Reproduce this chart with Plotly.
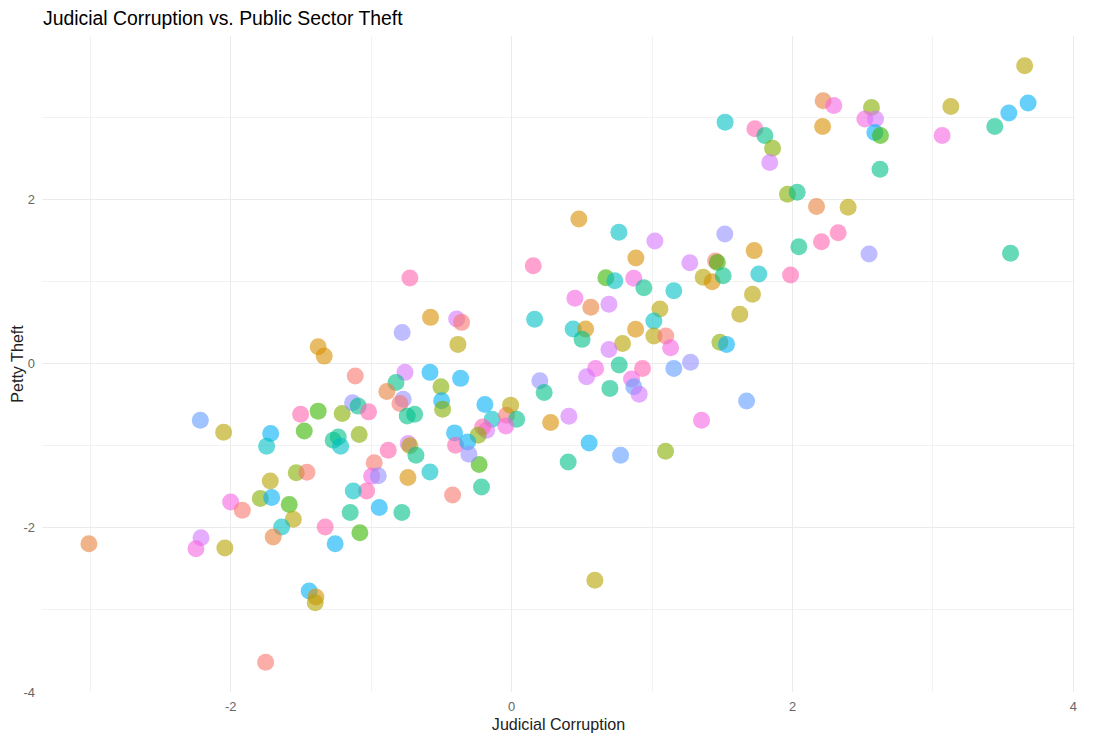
import plotly.graph_objects as go

# ---- data ----
group_names = ["S", "E", "O", "A", "Y", "G", "T", "C", "B", "L", "U", "V", "M", "P"]
group_colors = ["#F8766D", "#E8803A", "#D89000", "#B5A100", "#85AD00", "#39B600", "#00C08B",
                "#00BFC4", "#00B0F6", "#619CFF", "#9590FF", "#D575FE", "#F564E3", "#FF64B0"]

judicial_corruption = [
    -2.216, -2.050, -1.715, -1.744, -1.502, -1.476, -1.718, -1.533, -1.457, -3.009,
    -2.000, -1.917, -1.789, -1.708, -1.583, -1.554, -1.637, -1.697, -2.211, -2.247,
    -2.041, -1.441, -1.393, -1.398, -1.751, -1.327, -1.256, -1.080, -1.032, -1.127,
    -0.942, -1.149, -0.781, -0.420, -0.214, -0.231, -0.978, -0.996, -0.949, -0.738,
    -0.581, -0.724, 0.154, -0.577, -0.391, -0.356, -0.779, -0.382, -1.377, -1.334,
    0.164, -1.113, -0.759, -0.581, -0.363, -0.823, -0.888, -0.772, -0.795, -0.503,
    -0.498, -0.491, -0.743, -0.690, 0.201, 0.232, -1.377, -1.206, -1.132, -1.092,
    -1.018, -1.270, -1.234, -1.217, -1.085, -0.190, -0.138, -0.036, -0.007, 0.036,
    -0.041, -0.178, -0.206, -0.238, -0.406, -0.399, -0.313, -0.304, 0.278, -0.736,
    -0.724, -0.681, -0.878,
    1.520, 1.732, 1.803, 1.858, 1.838, 1.964, 2.033, 2.171, 2.218, 2.294,
    2.214, 0.479, 0.764, 1.020, 1.518, 0.885, 1.269, 1.452, 1.465, 1.727,
    2.045, 2.206, 2.325, 0.671, 0.735, 0.870, 0.942, 1.155, 1.364, 1.428,
    1.506, 1.760, 1.986, 0.451, 0.564, 0.693, 1.056, 1.715, 1.625, 0.438,
    0.527, 0.502, 1.013, 0.883, 1.013, 1.098, 1.132, 0.790, 0.693, 1.483,
    1.530, 0.598, 0.534, 0.766, 0.932, 1.155, 1.274, 0.854, 0.870, 0.908,
    0.700, 1.673, 0.408, 1.352, 0.552, 0.776, 0.403, 1.096, 0.593, 2.562,
    2.515, 2.591, 2.586, 2.626, 2.623, 3.127, 3.065, 3.653, 3.540, 3.677,
    3.440, 2.396, 2.545, 3.552,
]

petty_theft = [
    -0.689, -0.835, -0.851, -1.006, -0.616, -0.820, -1.429, -1.329, -1.323, -2.193,
    -1.685, -1.787, -1.644, -1.632, -1.717, -1.896, -1.990, -2.112, -2.120, -2.254,
    -2.246, -2.771, -2.844, -2.912, -3.637, -1.990, -2.193, -2.059, -1.551, -1.551,
    -1.754, -1.815, -1.815, -1.600, -1.502, -1.229, -1.207, -1.372, -1.366, -1.387,
    -1.320, 1.043, 1.193, 0.563, 0.543, 0.502, 0.380, 0.234, 0.205, 0.091,
    0.539, -0.152, -0.107, -0.107, -0.180, -0.229, -0.339, -0.433, -0.485, -0.283,
    -0.454, -0.555, -0.637, -0.616, -0.210, -0.351, -0.579, -0.607, -0.478, -0.518,
    -0.588, -0.933, -0.893, -1.006, -0.863, -0.498, -0.677, -0.628, -0.506, -0.677,
    -0.759, -0.811, -0.771, -0.872, -0.844, -0.994, -0.954, -1.104, -0.717, -0.973,
    -1.000, -1.116, -1.055,
    2.941, 2.860, 2.778, 2.624, 2.449, 2.063, 2.088, 1.912, 3.201, 3.144,
    2.888, 1.762, 1.600, 1.494, 1.579, 1.287, 1.229, 1.250, 1.232, 1.376,
    1.424, 1.485, 1.595, 1.046, 1.010, 1.039, 0.924, 0.888, 1.051, 0.998,
    1.071, 1.091, 1.079, 0.795, 0.685, 0.722, 0.665, 0.844, 0.600, 0.421,
    0.421, 0.295, 0.518, 0.417, 0.335, 0.335, 0.193, 0.246, 0.173, 0.259,
    0.234, -0.059, -0.161, -0.018, -0.059, -0.059, 0.015, -0.189, -0.283, -0.372,
    -0.302, -0.457, -0.640, -0.689, -0.966, -1.116, -1.198, -1.067, -2.640, 3.120,
    2.978, 2.978, 2.815, 2.778, 2.368, 3.132, 2.778, 3.628, 3.051, 3.173,
    2.888, 1.905, 1.335, 1.344,
]

group = [
    "L", "A", "B", "C", "P", "G", "A", "Y", "S", "E",
    "M", "S", "Y", "B", "G", "A", "C", "E", "V", "M",
    "A", "B", "O", "A", "S", "P", "B", "G", "P", "C",
    "B", "T", "T", "S", "T", "G", "S", "M", "U", "O",
    "C", "P", "P", "O", "V", "S", "U", "A", "O", "O",
    "C", "S", "V", "B", "B", "T", "E", "U", "S", "Y",
    "B", "Y", "T", "T", "U", "T", "G", "Y", "U", "T",
    "P", "T", "T", "C", "Y", "B", "C", "S", "A", "T",
    "M", "V", "P", "Y", "B", "P", "B", "U", "O", "V",
    "A", "T", "P",
    "C", "P", "T", "Y", "V", "Y", "T", "E", "E", "M",
    "O", "O", "C", "V", "U", "O", "V", "S", "G", "O",
    "T", "P", "P", "G", "C", "M", "T", "C", "A", "O",
    "T", "C", "P", "M", "E", "V", "A", "A", "A", "C",
    "O", "T", "C", "O", "A", "S", "M", "A", "V", "Y",
    "B", "M", "V", "T", "P", "L", "U", "M", "L", "V",
    "T", "L", "V", "M", "B", "L", "T", "Y", "A", "Y",
    "M", "V", "B", "G", "T", "A", "M", "A", "B", "B",
    "T", "A", "U", "T",
]

x_ticks = [-2, 0, 2, 4]
x_tick_labels = ["-2", "0", "2", "4"]
y_ticks = [-4, -2, 0, 2]
y_tick_labels = ["-4", "-2", "0", "2"]

# ---- figure ----
color_of = dict(zip(group_names, group_colors))
point_colors = [color_of[g] for g in group]

fig = go.Figure()
fig.add_trace(go.Scatter(
    x=judicial_corruption,
    y=petty_theft,
    mode="markers",
    marker=dict(size=17, color=point_colors, opacity=0.6, line=dict(width=0)),
    showlegend=False,
    hoverinfo="x+y",
))

grid_major = "#EBEBEB"
grid_minor = "#F2F2F2"
font_family = "Liberation Sans, Arial, sans-serif"

fig.update_layout(
    width=1100, height=744,
    paper_bgcolor="white", plot_bgcolor="white",
    margin=dict(l=34, r=33, t=28, b=60),
    font=dict(family=font_family),
    title=dict(
        text="Judicial Corruption vs. Public Sector Theft",
        x=35 / 1100, xref="container", xanchor="left",
        y=1 - 10 / 744, yref="container", yanchor="middle",
        font=dict(size=19.4, color="#000000", family=font_family),
    ),
    xaxis=dict(
        range=[-3.343, 4.011],
        tickmode="array", tickvals=x_ticks, ticktext=x_tick_labels,
        showgrid=True, gridcolor=grid_major, gridwidth=1,
        minor=dict(tickmode="array", tickvals=[-3, -1, 1, 3], showgrid=True,
                   gridcolor=grid_minor, gridwidth=1),
        zeroline=False, showline=False, ticks="",
        tickfont=dict(size=12.9, color="#666666"),
        ticklabelstandoff=5,
        title=dict(text="Judicial Corruption", standoff=5,
                   font=dict(size=16.1, color="#222222")),
        automargin=False,
    ),
    yaxis=dict(
        range=[-4.0, 3.99],
        tickmode="array", tickvals=y_ticks, ticktext=y_tick_labels,
        showgrid=True, gridcolor=grid_major, gridwidth=1,
        minor=dict(tickmode="array", tickvals=[-3, -1, 1, 3], showgrid=True,
                   gridcolor=grid_minor, gridwidth=1),
        zeroline=False, showline=False, ticks="",
        tickfont=dict(size=12.9, color="#666666"),
        ticklabelstandoff=6,
        title=dict(text="Petty Theft", standoff=0,
                   font=dict(size=16.1, color="#222222")),
        automargin=False,
    ),
)

fig.write_html("out.html")
